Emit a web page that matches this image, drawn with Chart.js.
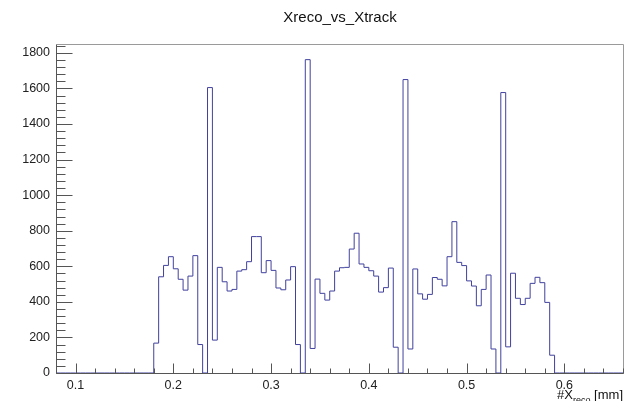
<!DOCTYPE html>
<html>
<head>
<meta charset="utf-8">
<script src="https://cdn.jsdelivr.net/npm/chart.js@4/dist/chart.umd.min.js"></script>
<style>
  html, body { margin: 0; padding: 0; background: #fff; }
  #chart { display: block; }
</style>
</head>
<body>
<canvas id="chart" width="633" height="401"></canvas>
<script>
// histogram binning: 116 bins of 0.005 mm from 0.08 to 0.66
const binLow = 0.08;
const binWidth = 0.005;

// entries per bin, empty below 0.18 and above 0.59
const emptyLow = new Array(20).fill(0);
const filledCounts = [
    168, 541, 605, 654, 586, 527, 466, 545, 660, 160,
    0, 1605, 185, 594, 513, 461, 470, 573, 581, 626,
    767, 767, 564, 632, 577, 478, 468, 523, 598, 160,
    0, 1762, 138, 528, 448, 410, 461, 573, 592, 594,
    697, 786, 613, 594, 575, 545, 455, 480, 590, 145,
    0, 1650, 135, 585, 445, 415, 442, 537, 527, 490,
    654, 851, 622, 604, 518, 489, 378, 470, 551, 135,
    0, 1577, 147, 561, 420, 385, 420, 504, 538, 508,
    397, 100
];
const emptyHigh = new Array(14).fill(0);
const counts = emptyLow.concat(filledCounts, emptyHigh);

const xTickLabels = [0.1, 0.2, 0.3, 0.4, 0.5, 0.6];
const yTickLabels = [0, 200, 400, 600, 800, 1000, 1200, 1400, 1600, 1800];

const histTitle = "Xreco_vs_Xtrack";
const xMin = 0.08, xMax = 0.66;
const yMin = 0, yMax = 1850;

const labelFont = "'Liberation Sans', Arial, sans-serif";

// step outline: one point per low edge, closed at the upper edge
function histPoints() {
    const pts = counts.map((c, i) => ({ x: binLow + i * binWidth, y: c }));
    pts.push({ x: binLow + counts.length * binWidth, y: 0 });
    return pts;
}

// ROOT-like frame with inward major/minor ticks, title and axis title
const rootFrame = {
    id: "rootFrame",
    afterDraw(chart) {
        const ctx = chart.ctx;
        const a = chart.chartArea;
        const xs = chart.scales.x, ys = chart.scales.y;
        const L = Math.round(a.left) + 0.5, R = Math.round(a.right) + 0.5;
        const T = Math.round(a.top) + 0.5, B = Math.round(a.bottom) + 0.5;

        ctx.save();
        ctx.lineWidth = 1;
        ctx.strokeStyle = "#9a9a9a";
        ctx.beginPath();
        ctx.moveTo(L, T); ctx.lineTo(R, T); ctx.lineTo(R, B);
        ctx.stroke();

        ctx.strokeStyle = "#555";
        ctx.beginPath();
        ctx.moveTo(L, T); ctx.lineTo(L, B); ctx.lineTo(R, B);

        // x ticks every 0.02, major every 0.1
        for (let k = 4; k <= 33; k++) {
            const px = Math.round(xs.getPixelForValue(k * 0.02)) + 0.5;
            const len = k % 5 === 0 ? 10 : 5;
            ctx.moveTo(px, B); ctx.lineTo(px, B - len);
        }
        // y ticks every 40, major every 200
        for (let k = 0; k * 40 <= yMax; k++) {
            const py = Math.round(ys.getPixelForValue(k * 40)) + 0.5;
            const len = k % 5 === 0 ? 16 : 9;
            ctx.moveTo(L, py); ctx.lineTo(L + len, py);
        }
        ctx.stroke();

        // title
        ctx.fillStyle = "#111";
        ctx.font = "15px " + labelFont;
        ctx.textAlign = "center";
        ctx.textBaseline = "middle";
        ctx.fillText(histTitle, 340, 18);

        // axis title "#X_{reco} [mm]", right aligned to the frame
        ctx.textAlign = "left";
        ctx.textBaseline = "alphabetic";
        const big = "13px " + labelFont, small = "9px " + labelFont;
        ctx.font = big;
        const w1 = ctx.measureText("#X").width;
        const w3 = ctx.measureText(" [mm]").width;
        ctx.font = small;
        const w2 = ctx.measureText("reco").width;
        let x0 = a.right - (w1 + w2 + w3);
        const base = 399;
        ctx.font = big;
        ctx.fillText("#X", x0, base);
        ctx.font = small;
        ctx.fillText("reco", x0 + w1, base + 4);
        ctx.font = big;
        ctx.fillText(" [mm]", x0 + w1 + w2, base);
        ctx.restore();
    }
};

function buildChart() {
    const chartElement = document.getElementById("chart");

    new Chart(chartElement, {
        type: "line",
        plugins: [rootFrame],
        data: {
            datasets: [{
                data: histPoints(),
                stepped: true,
                borderColor: "#41419e",
                borderWidth: 1,
                pointRadius: 0,
                fill: false
            }]
        },
        options: {
            responsive: false,
            animation: false,
            layout: { padding: { top: 44, right: 10, left: 0, bottom: 0 } },
            plugins: {
                legend: { display: false },
                tooltip: { enabled: false },
                title: { display: false }
            },
            scales: {
                x: {
                    type: "linear",
                    min: xMin,
                    max: xMax,
                    grid: { display: false, drawTicks: false },
                    border: { display: false },
                    afterBuildTicks: s => { s.ticks = xTickLabels.map(v => ({ value: v })); },
                    afterFit: s => { s.height = 28; },
                    ticks: {
                        autoSkip: false,
                        maxRotation: 0,
                        padding: 5,
                        color: "#222",
                        font: { family: labelFont, size: 12.5 },
                        callback: v => String(v)
                    }
                },
                y: {
                    type: "linear",
                    min: yMin,
                    max: yMax,
                    grid: { display: false, drawTicks: false },
                    border: { display: false },
                    afterBuildTicks: s => { s.ticks = yTickLabels.map(v => ({ value: v })); },
                    afterFit: s => { s.width = 56; },
                    ticks: {
                        autoSkip: false,
                        padding: 6,
                        color: "#222",
                        font: { family: labelFont, size: 12.5 },
                        callback: v => String(v)
                    }
                }
            }
        }
    });
}

buildChart();
</script>
</body>
</html>
